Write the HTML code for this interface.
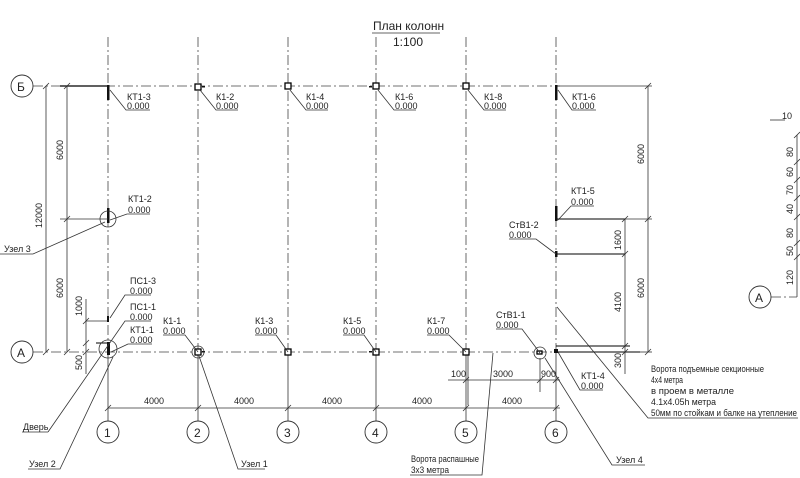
<!DOCTYPE html>
<html><head><meta charset="utf-8"><style>
html,body{margin:0;padding:0;background:#fff}
svg{display:block}
text{font-family:"Liberation Sans",sans-serif;font-size:9px;fill:#222}
.t{stroke:#333;stroke-width:0.8;fill:none}
.d{stroke:#444;stroke-width:0.8;fill:none;stroke-dasharray:10 3 2 3}
.k{stroke:#000;fill:none}
.c{stroke:#333;stroke-width:0.9;fill:#fff}
.col{fill:#fff;stroke:#000;stroke-width:1.3}
</style></head><body>
<svg width="800" height="478" viewBox="0 0 800 478" xmlns="http://www.w3.org/2000/svg">
<text x="373" y="30" style="font-size:12px">План колонн</text>
<line class="t" x1="372" y1="33" x2="440" y2="33"/>
<text x="393" y="46" style="font-size:12px">1:100</text>

<g class="d">
<line x1="108" y1="37" x2="108" y2="352"/>
<line x1="198" y1="37" x2="198" y2="352"/>
<line x1="288" y1="37" x2="288" y2="352"/>
<line x1="376" y1="37" x2="376" y2="352"/>
<line x1="466" y1="37" x2="466" y2="352"/>
<line x1="556" y1="37" x2="556" y2="352"/>
<line x1="33" y1="86" x2="560" y2="86"/>
<line x1="33" y1="352" x2="560" y2="352"/>
<line x1="771" y1="297" x2="797" y2="297"/>
</g>
<g class="t">
<line x1="108" y1="352" x2="108" y2="421"/>
<line x1="198" y1="352" x2="198" y2="421"/>
<line x1="288" y1="352" x2="288" y2="421"/>
<line x1="376" y1="352" x2="376" y2="421"/>
<line x1="466" y1="352" x2="466" y2="421"/>
<line x1="556" y1="352" x2="556" y2="421"/>
<line x1="468" y1="352" x2="468" y2="405"/>
</g>
<g class="c">
<circle cx="22" cy="86" r="11"/><circle cx="22" cy="352" r="11"/>
<circle cx="108" cy="432" r="11"/><circle cx="198" cy="432" r="11"/><circle cx="288" cy="432" r="11"/>
<circle cx="376" cy="432" r="11"/><circle cx="466" cy="432" r="11"/><circle cx="556" cy="432" r="11"/>
<circle cx="760" cy="297" r="11"/>
</g>
<text x="17" y="91" style="font-size:12px">Б</text><text x="17" y="357" style="font-size:12px">А</text>
<text x="104" y="437" style="font-size:12px">1</text><text x="194" y="437" style="font-size:12px">2</text>
<text x="284" y="437" style="font-size:12px">3</text><text x="372" y="437" style="font-size:12px">4</text>
<text x="462" y="437" style="font-size:12px">5</text><text x="552" y="437" style="font-size:12px">6</text>
<text x="755" y="302" style="font-size:12px">А</text>

<line class="k" style="stroke-width:1.2" x1="60" y1="86" x2="108" y2="86"/>
<line class="t" x1="556" y1="86" x2="652" y2="86"/>
<line class="k" style="stroke-width:1" x1="556" y1="219" x2="625" y2="219"/>
<line class="k" style="stroke-width:1" x1="556" y1="254" x2="625" y2="254"/>
<line class="k" style="stroke-width:1" x1="556" y1="346" x2="630" y2="346"/>
<line class="k" style="stroke-width:1" x1="556" y1="352" x2="640" y2="352"/>
<line class="k" style="stroke-width:1" x1="96" y1="343" x2="108" y2="343"/>
<line class="t" x1="86" y1="321" x2="108" y2="321"/>

<g fill="#111">
<rect x="107" y="85" width="2.5" height="15"/>
<rect x="107" y="208" width="2.5" height="15"/>
<rect x="107" y="316" width="2" height="6"/>
<rect x="107" y="342" width="3" height="13"/>
<rect x="555" y="85" width="2.5" height="15"/>
<rect x="555" y="206" width="2.5" height="15"/>
<rect x="555" y="251" width="2.5" height="6"/>
<rect x="202" y="86" width="3" height="1.5"/>
<rect x="369" y="86" width="3" height="1.5"/>
<rect x="202" y="351" width="3" height="1.5"/>
<rect x="369" y="351" width="3" height="1.5"/>
<rect x="554" y="349" width="4" height="4"/>
</g>
<g class="col">
<rect x="195" y="84" width="6" height="6"/>
<rect x="285" y="83" width="6" height="6"/>
<rect x="373" y="83" width="6" height="6"/>
<rect x="463" y="83" width="6" height="6"/>
<rect x="195" y="349" width="6" height="6"/>
<rect x="285" y="349" width="6" height="6"/>
<rect x="373" y="349" width="6" height="6"/>
<rect x="463" y="349" width="6" height="6"/>
<rect x="537" y="351" width="5" height="3"/>
</g>
<g class="t">
<circle cx="108" cy="219" r="8"/><circle cx="108" cy="349" r="9"/>
<circle cx="198" cy="352" r="6"/><circle cx="540" cy="353" r="6"/>
</g>

<g class="t">
<line x1="46" y1="86" x2="46" y2="352"/>
<line x1="67" y1="86" x2="67" y2="352"/>
<line x1="60" y1="219" x2="108" y2="219"/>
<line x1="86" y1="299" x2="86" y2="374"/>
<line x1="43" y1="89" x2="49" y2="83"/><line x1="43" y1="355" x2="49" y2="349"/>
<line x1="64" y1="89" x2="70" y2="83"/><line x1="64" y1="222" x2="70" y2="216"/><line x1="64" y1="355" x2="70" y2="349"/>
<line x1="83" y1="324" x2="89" y2="318"/><line x1="83" y1="346" x2="89" y2="340"/><line x1="83" y1="355" x2="89" y2="349"/>
</g>
<text transform="translate(63,160) rotate(-90)">6000</text>
<text transform="translate(42,228) rotate(-90)">12000</text>
<text transform="translate(63,298) rotate(-90)">6000</text>
<text transform="translate(82,316) rotate(-90)">1000</text>
<text transform="translate(82,370) rotate(-90)">500</text>

<g class="t">
<line x1="108" y1="408" x2="560" y2="408"/>
<line x1="448" y1="380" x2="560" y2="380"/>
<line x1="105" y1="411" x2="111" y2="405"/><line x1="195" y1="411" x2="201" y2="405"/><line x1="285" y1="411" x2="291" y2="405"/>
<line x1="373" y1="411" x2="379" y2="405"/><line x1="463" y1="411" x2="469" y2="405"/><line x1="553" y1="411" x2="559" y2="405"/>
<line x1="463" y1="383" x2="469" y2="377"/><line x1="537" y1="383" x2="543" y2="377"/><line x1="553" y1="383" x2="559" y2="377"/>
<line x1="540" y1="358" x2="540" y2="392"/>
</g>
<text x="144" y="404">4000</text><text x="234" y="404">4000</text><text x="322" y="404">4000</text>
<text x="412" y="404">4000</text><text x="502" y="404">4000</text>
<text x="451" y="377">100</text><text x="493" y="377">3000</text><text x="541" y="377">900</text>

<g class="t">
<line x1="648" y1="86" x2="648" y2="352"/>
<line x1="625" y1="219" x2="625" y2="374"/>
<line x1="625" y1="219" x2="652" y2="219"/>
<line x1="640" y1="352" x2="652" y2="352"/>
<line x1="645" y1="89" x2="651" y2="83"/><line x1="645" y1="222" x2="651" y2="216"/><line x1="645" y1="355" x2="651" y2="349"/>
<line x1="622" y1="222" x2="628" y2="216"/><line x1="622" y1="257" x2="628" y2="251"/><line x1="622" y1="349" x2="628" y2="343"/><line x1="622" y1="355" x2="628" y2="349"/>
</g>
<text transform="translate(644,164) rotate(-90)">6000</text>
<text transform="translate(644,298) rotate(-90)">6000</text>
<text transform="translate(621,250) rotate(-90)">1600</text>
<text transform="translate(621,312) rotate(-90)">4100</text>
<text transform="translate(621,368) rotate(-90)">300</text>

<g class="t">
<line x1="797" y1="135" x2="797" y2="297"/>
<line x1="770" y1="120" x2="785" y2="120"/>
<line x1="794" y1="138" x2="800" y2="132"/><line x1="794" y1="165" x2="800" y2="159"/><line x1="794" y1="183" x2="800" y2="177"/>
<line x1="794" y1="201" x2="800" y2="195"/><line x1="794" y1="220" x2="800" y2="214"/><line x1="794" y1="246" x2="800" y2="240"/>
<line x1="794" y1="260" x2="800" y2="254"/>
</g>
<text x="782" y="119">10</text>
<text transform="translate(793,157) rotate(-90)">80</text>
<text transform="translate(793,177) rotate(-90)">60</text>
<text transform="translate(793,195) rotate(-90)">70</text>
<text transform="translate(793,214) rotate(-90)">40</text>
<text transform="translate(793,238) rotate(-90)">80</text>
<text transform="translate(793,256) rotate(-90)">50</text>
<text transform="translate(793,285) rotate(-90)">120</text>

<g class="t">
<polyline points="110,90 126,110 150,110"/>
<polyline points="200,90 216,110 238,110"/>
<polyline points="290,90 306,110 328,110"/>
<polyline points="378,90 394,110 416,110"/>
<polyline points="468,90 484,110 506,110"/>
<polyline points="558,90 572,110 596,110"/>
<polyline points="110,220 127,214 150,214"/>
<polyline points="558,220 571,206 594,206"/>
<polyline points="556,254 536,239 509,239"/>
<polyline points="198,352 185,335 163,335"/>
<polyline points="288,352 276,335 255,335"/>
<polyline points="376,352 364,335 343,335"/>
<polyline points="466,352 449,335 427,335"/>
<polyline points="540,353 522,329 496,329"/>
<polyline points="110,318 125,295 151,295"/>
<polyline points="48,432 125,321 151,321"/>
<polyline points="111,352 128,344 152,344"/>
<polyline points="558,352 580,390 603,390"/>
<polyline points="0,254 33,254 105,222"/>
<polyline points="28,469 60,469 113,357"/>
<polyline points="265,469 238,469 199,356"/>
<polyline points="645,465 612,465 545,358"/>
<polyline points="410,475 482,475 493,353"/>
<polyline points="557,307 648,418 798,418"/>
<line x1="22" y1="432" x2="48" y2="432"/>
</g>
<text x="127" y="100">КТ1-3</text><text x="127" y="109">0.000</text>
<text x="216" y="100">К1-2</text><text x="216" y="109">0.000</text>
<text x="306" y="100">К1-4</text><text x="306" y="109">0.000</text>
<text x="395" y="100">К1-6</text><text x="395" y="109">0.000</text>
<text x="484" y="100">К1-8</text><text x="484" y="109">0.000</text>
<text x="572" y="100">КТ1-6</text><text x="572" y="109">0.000</text>
<text x="128" y="202">КТ1-2</text><text x="128" y="213">0.000</text>
<text x="571" y="194">КТ1-5</text><text x="571" y="205">0.000</text>
<text x="509" y="228">СтВ1-2</text><text x="509" y="238">0.000</text>
<text x="163" y="324">К1-1</text><text x="163" y="334">0.000</text>
<text x="255" y="324">К1-3</text><text x="255" y="334">0.000</text>
<text x="343" y="324">К1-5</text><text x="343" y="334">0.000</text>
<text x="427" y="324">К1-7</text><text x="427" y="334">0.000</text>
<text x="496" y="318">СтВ1-1</text><text x="496" y="328">0.000</text>
<text x="130" y="284">ПС1-3</text><text x="130" y="294">0.000</text>
<text x="130" y="310">ПС1-1</text><text x="130" y="320">0.000</text>
<text x="130" y="333">КТ1-1</text><text x="130" y="343">0.000</text>
<text x="581" y="379">КТ1-4</text><text x="581" y="389">0.000</text>
<text x="4" y="252">Узел 3</text>
<text x="23" y="430">Дверь</text>
<text x="29" y="467">Узел 2</text>
<text x="241" y="467">Узел 1</text>
<text x="616" y="463">Узел 4</text>
<text x="411" y="462" textLength="68" lengthAdjust="spacingAndGlyphs">Ворота распашные</text>
<text x="411" y="473" textLength="38" lengthAdjust="spacingAndGlyphs">3х3 метра</text>
<text x="651" y="372" textLength="113" lengthAdjust="spacingAndGlyphs">Ворота подъемные секционные</text>
<text x="651" y="383" textLength="32" lengthAdjust="spacingAndGlyphs">4х4 метра</text>
<text x="651" y="394" textLength="83" lengthAdjust="spacingAndGlyphs">в проем в металле</text>
<text x="651" y="405" textLength="65" lengthAdjust="spacingAndGlyphs">4.1х4.05h метра</text>
<text x="651" y="416" textLength="146" lengthAdjust="spacingAndGlyphs">50мм по стойкам и балке на утепление</text>
</svg>
</body></html>
